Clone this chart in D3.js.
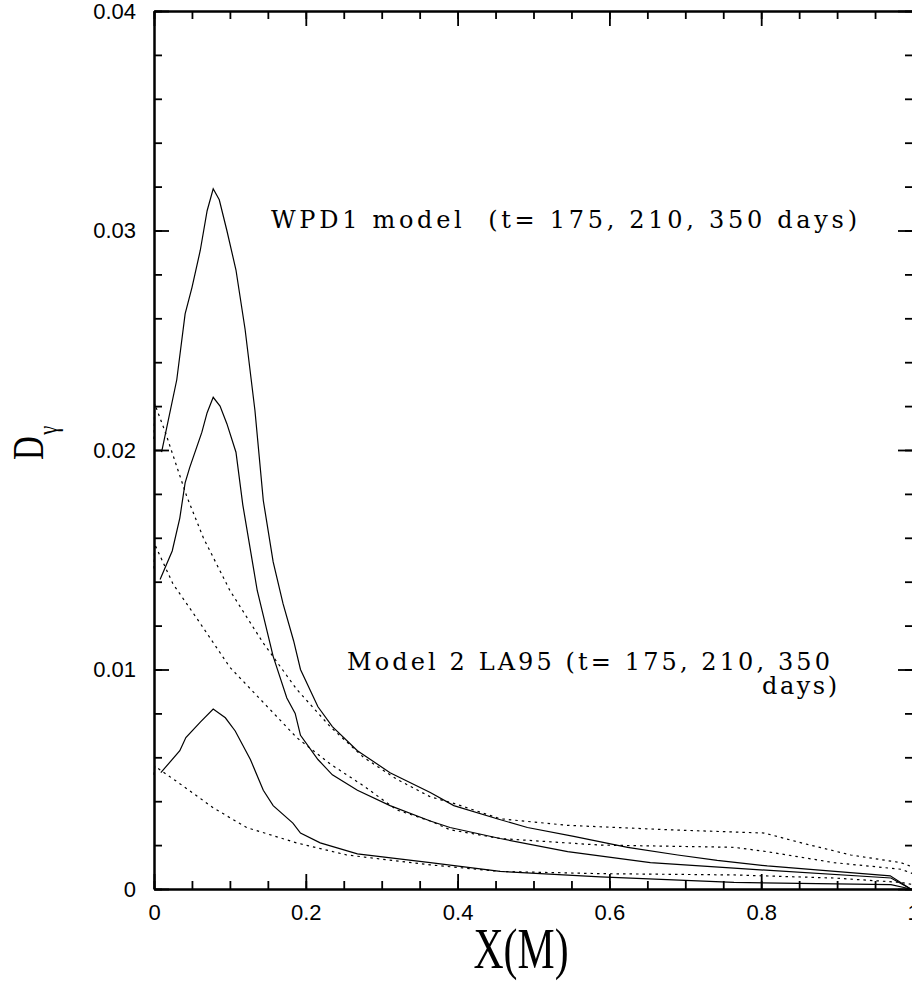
<!DOCTYPE html>
<html>
<head>
<meta charset="utf-8">
<script src="https://cdn.jsdelivr.net/npm/d3@7"></script>
<style>
  body { margin: 0; background: #fff; }
  .tick text { font-family: "Liberation Sans", Arial, sans-serif; font-size: 22px; fill: #000; }
</style>
</head>
<body>
<script>
// data (x = mass coordinate, y = D_gamma)
var wpd175X = [0.010, 0.030, 0.041, 0.050, 0.061, 0.070, 0.078, 0.086, 0.096, 0.108, 0.120, 0.133, 0.144, 0.157, 0.170, 0.184, 0.193, 0.216, 0.235, 0.268, 0.311, 0.364, 0.395, 0.452, 0.492, 0.553, 0.624, 0.690, 0.742, 0.808, 0.970, 0.997];
var wpd175Y = [0.0199, 0.0232, 0.0262, 0.0274, 0.0291, 0.0309, 0.0319, 0.0314, 0.0300, 0.0282, 0.0255, 0.0218, 0.0177, 0.0149, 0.0130, 0.0113, 0.0100, 0.0083, 0.0074, 0.0063, 0.0053, 0.0044, 0.0038, 0.0032, 0.0028, 0.0024, 0.0019, 0.00155, 0.0013, 0.00105, 0.0006, 0.0];

var wpd210X = [0.008, 0.024, 0.034, 0.041, 0.047, 0.063, 0.070, 0.078, 0.087, 0.096, 0.108, 0.117, 0.136, 0.157, 0.175, 0.186, 0.193, 0.216, 0.235, 0.268, 0.311, 0.364, 0.390, 0.456, 0.545, 0.654, 0.764, 0.971, 0.997];
var wpd210Y = [0.0141, 0.0154, 0.0169, 0.0185, 0.0192, 0.0208, 0.0217, 0.0224, 0.0220, 0.0212, 0.0199, 0.0175, 0.0136, 0.0106, 0.0087, 0.0080, 0.0070, 0.0059, 0.0052, 0.0045, 0.0038, 0.0031, 0.0028, 0.0023, 0.0017, 0.0012, 0.00095, 0.0005, 0.0];

var wpd350X = [0.009, 0.034, 0.042, 0.061, 0.078, 0.094, 0.107, 0.127, 0.144, 0.157, 0.183, 0.193, 0.219, 0.268, 0.364, 0.456, 0.588, 0.764, 0.971, 0.997];
var wpd350Y = [0.0053, 0.0063, 0.0069, 0.0076, 0.0082, 0.0078, 0.0072, 0.0059, 0.0045, 0.0038, 0.0030, 0.00255, 0.0021, 0.0016, 0.0012, 0.0008, 0.00055, 0.0003, 0.0002, 0.0];

var la175X = [0.0, 0.001, 0.015, 0.043, 0.065, 0.100, 0.144, 0.188, 0.232, 0.276, 0.320, 0.364, 0.395, 0.456, 0.545, 0.677, 0.804, 0.853, 0.918, 0.984, 1.0];
var la175Y = [0.0205, 0.0221, 0.0208, 0.0179, 0.0160, 0.0136, 0.0112, 0.0091, 0.0074, 0.0060, 0.0050, 0.0042, 0.0039, 0.0032, 0.0029, 0.0027, 0.00255, 0.0021, 0.00155, 0.0012, 0.0010];

var la210X = [0.0, 0.001, 0.025, 0.057, 0.100, 0.144, 0.188, 0.232, 0.276, 0.320, 0.364, 0.390, 0.456, 0.588, 0.764, 0.808, 0.896, 0.984, 1.0];
var la210Y = [0.0146, 0.0157, 0.0139, 0.0123, 0.0101, 0.0085, 0.0069, 0.0057, 0.0047, 0.0036, 0.0031, 0.0027, 0.0023, 0.0020, 0.0019, 0.0017, 0.0012, 0.0009, 0.0007];

var la350X = [0.0, 0.001, 0.034, 0.078, 0.122, 0.188, 0.254, 0.364, 0.456, 0.588, 0.764, 0.896, 0.984, 1.0];
var la350Y = [0.0052, 0.0056, 0.0048, 0.0037, 0.0028, 0.0021, 0.00155, 0.0011, 0.0008, 0.0007, 0.00064, 0.0005, 0.0003, 0.0002];

var xMajor = [0, 0.2, 0.4, 0.6, 0.8, 1];
var yMajor = [0, 0.01, 0.02, 0.03, 0.04];
var xLabels = ["0", "0.2", "0.4", "0.6", "0.8", "1"];
var yLabels = ["0", "0.01", "0.02", "0.03", "0.04"];

var svgWidth = 912, svgHeight = 1000;
// plot box edges (named to avoid window.top)
var box = { left: 154, right: 913, top: 11, bottom: 889 };

var svg = d3.select("body").append("svg")
    .attr("width", svgWidth)
    .attr("height", svgHeight);

var x = d3.scaleLinear().domain([0, 1]).range([box.left, box.right]);
var y = d3.scaleLinear().domain([0, 0.04]).range([box.bottom, box.top]);

var xMinor = d3.range(0, 1.0001, 0.05);
var yMinor = d3.range(0, 0.04001, 0.002);

function styleAxis(g) {
  g.select(".domain").attr("stroke-width", 2);
  g.selectAll(".tick line").attr("stroke-width", 1.8);
}

// minor ticks on all four sides
svg.append("g").attr("transform", `translate(0,${box.bottom})`)
  .call(d3.axisBottom(x).tickValues(xMinor).tickSize(-8).tickSizeOuter(0).tickFormat("")).call(styleAxis);
svg.append("g").attr("transform", `translate(0,${box.top})`)
  .call(d3.axisTop(x).tickValues(xMinor).tickSize(-8).tickSizeOuter(0).tickFormat("")).call(styleAxis);
svg.append("g").attr("transform", `translate(${box.left},0)`)
  .call(d3.axisLeft(y).tickValues(yMinor).tickSize(-8).tickSizeOuter(0).tickFormat("")).call(styleAxis);
svg.append("g").attr("transform", `translate(${box.right},0)`)
  .call(d3.axisRight(y).tickValues(yMinor).tickSize(-8).tickSizeOuter(0).tickFormat("")).call(styleAxis);

// major ticks + labels
svg.append("g").attr("transform", `translate(0,${box.bottom})`)
  .call(d3.axisBottom(x).tickValues(xMajor).tickSize(-15).tickSizeOuter(0).tickPadding(15)
    .tickFormat((d, i) => xLabels[i])).call(styleAxis);
svg.append("g").attr("transform", `translate(0,${box.top})`)
  .call(d3.axisTop(x).tickValues(xMajor).tickSize(-15).tickSizeOuter(0).tickFormat("")).call(styleAxis);
svg.append("g").attr("transform", `translate(${box.left},0)`)
  .call(d3.axisLeft(y).tickValues(yMajor).tickSize(-15).tickSizeOuter(0).tickPadding(18)
    .tickFormat((d, i) => yLabels[i])).call(styleAxis);
svg.append("g").attr("transform", `translate(${box.right},0)`)
  .call(d3.axisRight(y).tickValues(yMajor).tickSize(-15).tickSizeOuter(0).tickFormat("")).call(styleAxis);

// curves
var line = d3.line().x(d => x(d[0])).y(d => y(d[1]));

var solid = [[wpd175X, wpd175Y], [wpd210X, wpd210Y], [wpd350X, wpd350Y]];
var dotted = [[la175X, la175Y], [la210X, la210Y], [la350X, la350Y]];

solid.forEach(s => {
  svg.append("path")
    .datum(s[0].map((v, i) => [v, s[1][i]]))
    .attr("d", line)
    .attr("fill", "none")
    .attr("stroke", "#000")
    .attr("stroke-width", 1.2);
});
dotted.forEach(s => {
  svg.append("path")
    .datum(s[0].map((v, i) => [v, s[1][i]]))
    .attr("d", line)
    .attr("fill", "none")
    .attr("stroke", "#000")
    .attr("stroke-width", 1.2)
    .attr("stroke-dasharray", "2.5,4");
});

// annotations
var serif = "'DejaVu Serif', serif";
svg.append("text")
  .attr("x", 271).attr("y", 228)
  .attr("textLength", 586).attr("lengthAdjust", "spacing")
  .style("font-family", serif).style("font-size", "24px")
  .style("white-space", "pre")
  .text("WPD1 model  (t= 175, 210, 350 days)");
svg.append("text")
  .attr("x", 347).attr("y", 670)
  .attr("textLength", 483).attr("lengthAdjust", "spacing")
  .style("font-family", serif).style("font-size", "24px")
  .style("white-space", "pre")
  .text("Model 2 LA95 (t= 175, 210, 350");
svg.append("text")
  .attr("x", 762).attr("y", 694)
  .attr("textLength", 75).attr("lengthAdjust", "spacing")
  .style("font-family", serif).style("font-size", "24px")
  .text("days)");

// axis titles
var titleFont = "'Liberation Serif', 'Times New Roman', serif";
svg.append("text")
  .attr("transform", "translate(521,968) scale(0.72,1)")
  .attr("text-anchor", "middle")
  .style("font-family", titleFont).style("font-size", "58px")
  .text("X(M)");

var ylab = svg.append("text")
  .attr("transform", "translate(43,460) rotate(-90) scale(0.73,1)")
  .style("font-family", titleFont).style("font-size", "45px");
ylab.append("tspan").text("D");
ylab.append("tspan").attr("dy", 14).attr("dx", 2).style("font-size", "28px").text("γ");
</script>
</body>
</html>
